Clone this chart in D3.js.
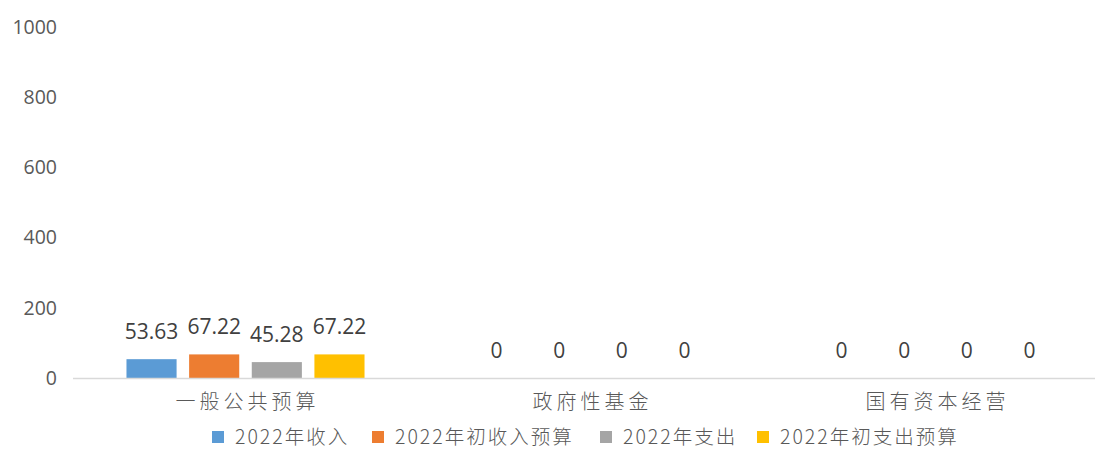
<!DOCTYPE html>
<html><head><meta charset="utf-8">
<script src="https://cdn.jsdelivr.net/npm/d3@7"></script>
<style>body{margin:0;background:#fff}svg{display:block}</style>
</head><body>
<svg id="c" width="1095" height="450"></svg>
<script>
const categories = ["一般公共预算", "政府性基金", "国有资本经营"];
const seriesNames = ["2022年收入", "2022年初收入预算", "2022年支出", "2022年初支出预算"];
const incomeActual = [53.63, 0, 0];
const incomeBudget = [67.22, 0, 0];
const expenseActual = [45.28, 0, 0];
const expenseBudget = [67.22, 0, 0];
const yTicks = [0, 200, 400, 600, 800, 1000];
const colors = ["#5b9bd5", "#ed7d31", "#a5a5a5", "#ffc000"];

(function(){
const seriesValues = [incomeActual, incomeBudget, expenseActual, expenseBudget];
const svg = d3.select("#c");
const mLeft = 73, mRight = 1108, mTop = 27, mBottom = 378;

const y = d3.scaleLinear().domain([0, 1000]).range([mBottom, mTop]);
const x0 = d3.scaleBand().domain(categories).range([mLeft, mRight]);
const bw = x0.bandwidth();
const x1 = d3.scaleBand().domain(seriesNames).range([bw*0.155, bw*0.845]).paddingInner(0.2);

const numFont = "'Open Sans', 'Noto Sans', sans-serif";
const cjkFont = "'Noto Sans CJK SC', sans-serif";

const yAxis = d3.axisLeft(y).tickValues(yTicks).tickFormat(d3.format("d")).tickSize(0).tickPadding(16);
const ga = svg.append("g").attr("transform", `translate(${mLeft},0)`).call(yAxis);
ga.select(".domain").remove();
ga.selectAll("text").attr("font-family", numFont).attr("font-size", 19.5).attr("fill", "#595959");

categories.forEach((c, ci) => {
  const g = svg.append("g").attr("transform", `translate(${x0(c)},0)`);
  seriesNames.forEach((s, si) => {
    const v = seriesValues[si][ci];
    g.append("rect")
      .attr("x", x1(s)).attr("width", x1.bandwidth())
      .attr("y", y(v)).attr("height", y(0) - y(v))
      .attr("fill", colors[si]);
    g.append("text")
      .attr("x", x1(s) + x1.bandwidth()/2)
      .attr("y", y(v) - 20)
      .attr("text-anchor", "middle")
      .attr("font-family", numFont).attr("font-size", 21)
      .attr("fill", "#404040")
      .text(v === 0 ? "0" : v.toFixed(2));
  });
});

svg.append("line").attr("x1", mLeft).attr("x2", 1095).attr("y1", mBottom + 0.5).attr("y2", mBottom + 0.5)
  .attr("stroke", "#d9d9d9").attr("stroke-width", 1.5);

const xAxis = d3.axisBottom(x0).tickSize(0).tickPadding(17);
const gx = svg.append("g").attr("transform", `translate(0,${mBottom})`).call(xAxis);
gx.select(".domain").remove();
gx.selectAll("text").attr("font-family", cjkFont).attr("font-size", 20).attr("font-weight", 300)
  .attr("fill", "#595959").attr("letter-spacing", "4px").attr("dx", "2px");

const legendX = [212, 372, 600, 757];
const lg = svg.append("g");
seriesNames.forEach((s, i) => {
  lg.append("rect").attr("x", legendX[i]).attr("y", 431).attr("width", 12).attr("height", 12).attr("fill", colors[i]);
  lg.append("text").attr("x", legendX[i] + 23).attr("y", 444)
    .attr("font-family", cjkFont).attr("font-size", 19.5).attr("font-weight", 300)
    .attr("fill", "#595959").attr("letter-spacing", "2px").text(s);
});
})();
</script>
</body></html>
